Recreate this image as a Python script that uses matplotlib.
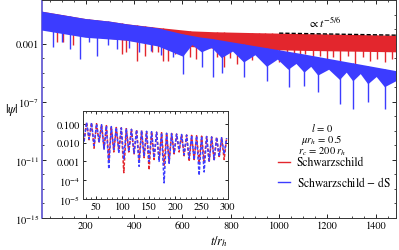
import numpy as np
import matplotlib
matplotlib.use("Agg")
import matplotlib.pyplot as plt
from matplotlib.ticker import FixedLocator, MultipleLocator, NullFormatter

plt.rcParams['font.family'] = ['STIXGeneral', 'DejaVu Serif']
plt.rcParams['mathtext.fontset'] = 'stix'

RED = '#e3262d'
BLUE = '#3c3cff'

# ---- main panel, log10|psi| ----
red_top_t = [18, 100, 200, 300, 370, 500, 640, 735, 900, 1085, 1300, 1484]
red_top_L = [-0.8, -1.03, -1.31, -1.49, -1.67, -1.92, -2.16, -2.22, -2.28, -2.34, -2.4, -2.46]
red_floor_t = [18, 200, 370, 600, 735, 1100, 1484]
red_floor_L = [-2.0, -2.5, -2.8, -3.2, -3.35, -3.5, -3.6]
red_spike_t = [79, 105, 146, 348, 368, 410, 444, 472, 500, 520, 541, 568, 631, 658,
               742, 770, 798, 825, 860, 888, 915, 943, 970, 998, 1032, 1060, 1087,
               1107, 1141, 1169, 1197, 1224, 1252, 1286, 1314, 1348, 1376, 1404, 1438, 1466]
red_spike_L = [-2.9, -2.9, -3.1, -3.7, -3.6, -4.2, -3.85, -3.6, -3.6, -4.2, -4.18, -3.7, -3.95, -4.06,
               -3.9, -4.6, -4.0, -4.4, -3.9, -4.1, -3.9, -4.2, -3.95, -4.3, -3.9, -4.1, -4.0,
               -3.72, -4.06, -3.83, -4.18, -3.95, -4.18, -3.83, -4.4, -3.95, -4.18, -4.06, -4.3, -4.06]

blue_top_t = [18, 100, 200, 300, 370, 500, 600, 671, 722, 1095, 1484]
blue_top_L = [-0.8, -1.03, -1.31, -1.49, -1.67, -1.95, -2.35, -2.57, -2.68, -3.72, -4.89]
# lower edge: dense part for early times, then arches between the deep dips
blue_floor_t = [18, 200, 370, 500, 603, 641, 680, 722, 763, 809, 855, 902, 950, 995,
                1039, 1072, 1105, 1133, 1162, 1207, 1252, 1280, 1307, 1338, 1369, 1404, 1438, 1484]
blue_floor_L = [-2.1, -2.6, -2.8, -3.2, -3.9, -3.1, -3.6, -3.3, -4.0, -3.55, -4.3, -3.8, -4.6, -4.1,
                -4.8, -4.4, -5.0, -4.6, -5.2, -4.8, -5.5, -5.0, -5.6, -5.1, -5.8, -5.3, -6.0, -5.6]
blue_spike_t = [65, 100, 136, 176, 214, 247, 290, 330, 380, 420, 470, 510, 560, 603, 680, 727,
                763, 855, 950, 1039, 1105, 1162, 1252, 1307, 1369, 1438]
blue_spike_L = [-3.26, -2.9, -3.4, -4.06, -2.9, -3.85, -3.1, -3.4, -3.3, -3.6, -3.5, -3.8, -3.9, -5.1, -4.6, -5.3,
                -5.0, -5.3, -5.6, -6.0, -5.9, -6.33, -7.16, -7.5, -7.0, -7.5]

tail_t = [1000, 1484]
tail_L = [-2.28, -2.42]

# ---- inset, log10|psi| at each dip and the peak value after it ----
ins_t = [27, 36.5, 46, 55.5, 65, 74, 83.5, 93, 102.5, 112, 122, 131.5, 141, 150.5, 160,
         169.5, 179, 188.5, 198, 207.5, 217, 226.5, 236, 245.5, 255, 264.5, 274, 283.5, 293]
ins_blue = [-1.95, -1.8, -2.16, -1.95, -2.35, -3.4, -2.37, -2.56, -2.9, -2.47, -2.56, -3.26, -2.74, -3.0, -2.8,
            -3.0, -4.14, -3.1, -2.56, -2.4, -2.65, -2.83, -2.91, -3.74, -3.56, -2.98, -2.91, -2.74, -2.6]
ins_red = [-1.9, -1.85, -2.3, -2.0, -2.3, -2.9, -2.5, -2.4, -3.6, -2.5, -2.6, -2.9, -2.8, -3.45, -2.9,
           -2.95, -3.2, -3.0, -2.6, -2.5, -2.7, -3.0, -2.9, -3.1, -3.0, -3.05, -2.95, -2.8, -2.9]
ins_peak = [-0.93, -0.95, -1.0, -1.05, -1.1, -1.15, -1.2, -1.22, -1.26, -1.3, -1.33, -1.36, -1.4, -1.42, -1.45,
            -1.48, -1.5, -1.52, -1.55, -1.57, -1.6, -1.62, -1.64, -1.66, -1.68, -1.7, -1.72, -1.74, -1.76]


def band(ax, top_t, top_L, fl_t, fl_L, sp_t, sp_L, color, z):
    xs = np.concatenate([top_t, fl_t[::-1]])
    ys = 10.0 ** np.concatenate([top_L, fl_L[::-1]])
    ax.fill(xs, ys, color=color, lw=0, zorder=z)
    sp_t = np.array(sp_t)
    hi = 10.0 ** np.interp(sp_t, top_t, top_L)
    ax.vlines(sp_t, 10.0 ** np.array(sp_L), hi, color=color, lw=1.0, zorder=z)


fig = plt.figure(figsize=(3.99, 2.51), dpi=100)
ax = fig.add_axes([0.105, 0.1275, 0.8875, 0.8685])

band(ax, red_top_t, red_top_L, red_floor_t, red_floor_L, red_spike_t, red_spike_L, RED, 2)
band(ax, blue_top_t, blue_top_L, blue_floor_t, blue_floor_L, blue_spike_t, blue_spike_L, BLUE, 3)
ax.plot(tail_t, 10.0 ** np.array(tail_L), color='k', ls=(0, (3, 1.5)), lw=1.0, zorder=4)
ax.text(1190, 10 ** -1.5, r'$\propto t^{-5/6}$', fontsize=8.5, ha='center', va='center')

ax.set_yscale('log')
ax.set_xlim(18, 1484)
ax.set_ylim(1e-15, 1)
ax.xaxis.set_major_locator(FixedLocator([200, 400, 600, 800, 1000, 1200, 1400]))
ax.xaxis.set_minor_locator(MultipleLocator(50))
ax.yaxis.set_major_locator(FixedLocator([1e-15, 1e-11, 1e-7, 1e-3]))
ax.set_yticklabels([r'$10^{-15}$', r'$10^{-11}$', r'$10^{-7}$', '0.001'])
ax.yaxis.set_minor_locator(FixedLocator([10.0 ** k for k in range(-15, 1)]))
ax.yaxis.set_minor_formatter(NullFormatter())
ax.tick_params(which='both', direction='in', top=True, right=True, labelsize=7.5, pad=2)
ax.tick_params(which='major', length=3, width=0.6)
ax.tick_params(which='minor', length=1.6, width=0.5)
for s in ax.spines.values():
    s.set_linewidth(0.7)
    s.set_color('#333333')
ax.spines['left'].set_color('#5a50d0')
ax.spines['left'].set_linewidth(1.2)
ax.set_xlabel(r'$t/r_h$', fontsize=9, labelpad=2)
ax.set_ylabel(r'$|\psi|$', fontsize=9, rotation=0, va='center', ha='center')
ax.yaxis.set_label_coords(-0.085, 0.5)

# parameter block and legend
fs = 7.6
ax.text(1177, 10 ** -8.74, r'$l\,=\,0$', fontsize=fs, ha='center', va='center')
ax.text(1177, 10 ** -9.57, r'$\mu r_h\,=\,0.5$', fontsize=fs, ha='center', va='center')
ax.text(1177, 10 ** -10.4, r'$r_c\,=\,200\;r_h$', fontsize=fs, ha='center', va='center')
ax.plot([995, 1045], [10 ** -11.15, 10 ** -11.15], color=RED, lw=1.0)
ax.text(1073, 10 ** -11.15, 'Schwarzschild', fontsize=8.3, ha='left', va='center')
ax.plot([995, 1045], [10 ** -12.5, 10 ** -12.5], color=BLUE, lw=1.0)
ax.text(1073, 10 ** -12.5, r'Schwarzschild $-$ dS', fontsize=8.3, ha='left', va='center')

# inset
ins = fig.add_axes([0.208, 0.203, 0.363, 0.351])
ins.set_facecolor('white')
for vals, color in [(ins_red, RED), (ins_blue, BLUE)]:
    xs, ys = [], []
    for i, t in enumerate(ins_t):
        xs.append(t)
        ys.append(vals[i])
        nxt = ins_t[i + 1] if i + 1 < len(ins_t) else t + 9.5
        xs.append(0.5 * (t + nxt))
        ys.append(ins_peak[i])
    ins.plot(xs, 10.0 ** np.array(ys), color=color, lw=1.1, ls=(0, (2, 1.2)))
ins.set_yscale('log')
ins.set_xlim(25, 300)
ins.set_ylim(1e-5, 10 ** -0.32)
ins.xaxis.set_major_locator(FixedLocator([50, 100, 150, 200, 250, 300]))
ins.xaxis.set_minor_locator(MultipleLocator(10))
ins.yaxis.set_major_locator(FixedLocator([1e-5, 1e-4, 1e-3, 1e-2, 1e-1]))
ins.set_yticklabels([r'$10^{-5}$', r'$10^{-4}$', '0.001', '0.010', '0.100'])
ins.yaxis.set_minor_formatter(NullFormatter())
ins.tick_params(which='both', direction='in', top=True, right=True, labelsize=7.5, pad=2)
ins.tick_params(which='major', length=2.5, width=0.6)
ins.tick_params(which='minor', length=1.3, width=0.5)
for s in ins.spines.values():
    s.set_linewidth(0.7)
    s.set_color('#333333')

fig.savefig('out.png', dpi=100)
